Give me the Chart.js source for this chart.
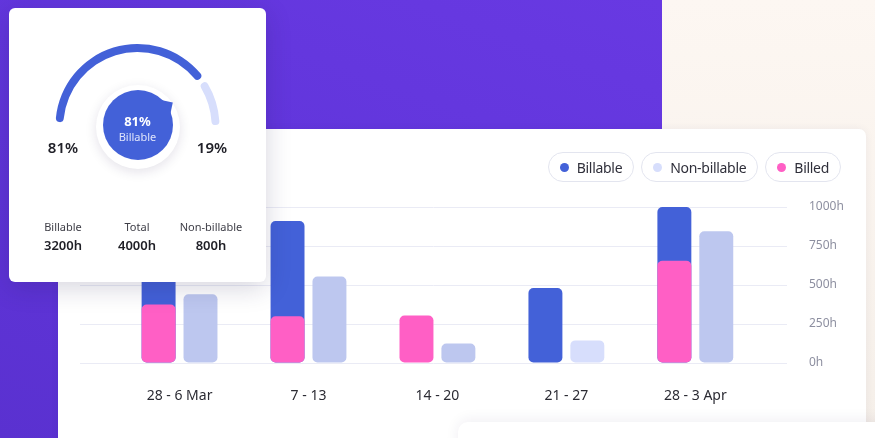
<!DOCTYPE html>
<html>
<head>
<meta charset="utf-8">
<script src="https://cdn.jsdelivr.net/npm/chart.js@4/dist/chart.umd.min.js"></script>
<style>
  html, body { margin: 0; padding: 0; width: 875px; height: 438px; overflow: hidden; }
  body { position: relative; font-family: "Noto Sans", "Open Sans", sans-serif; background: #fbf4ee; }
  #purple { position: absolute; left: 0; top: 0; width: 662px; height: 438px;
    background: linear-gradient(20deg, #5a31d0 0%, #6236dc 60%, #6839e2 100%); }
  #beige { position: absolute; left: 662px; top: 0; width: 213px; height: 438px;
    background: linear-gradient(180deg, #fdf7f2 0%, #f5efe9 100%); }
  #main { position: absolute; left: 58px; top: 129px; width: 808px; height: 340px; background: #fff;
    border-radius: 7px; box-shadow: 0 0 8px rgba(40, 30, 90, 0.06); }
  #barChart { position: absolute; left: 0; top: 0; }
  #legend { position: absolute; right: 25px; top: 23px; display: flex; gap: 7px; }
  .pill { box-sizing: border-box; height: 30px; border: 1px solid #e3e5ef; border-radius: 15px; display: flex;
    align-items: center; padding: 0 11px; font-size: 14px; letter-spacing: -0.3px; color: #2f2f3a; background: #fff; }
  .dot { width: 9px; height: 9px; border-radius: 50%; margin-right: 8px; }
  #bottomCard { position: absolute; left: 458px; top: 422px; width: 460px; height: 60px; background: #fff;
    border-radius: 10px; box-shadow: 0 -2px 14px rgba(40, 30, 90, 0.07); }
  #gauge { position: absolute; left: 9px; top: 8px; width: 257px; height: 274px; background: #fff;
    border-radius: 6px; box-shadow: 0 6px 26px rgba(30, 20, 70, 0.18); }
  #gaugeChart { position: absolute; left: 46px; top: 36px; }
  #ring { position: absolute; left: 86.5px; top: 76.5px; width: 84px; height: 84px; border-radius: 50%;
    background: #fff; box-shadow: 0 3px 12px rgba(30, 20, 70, 0.12); }
  #pointer { position: absolute; left: 128.5px; top: 117px; width: 0; height: 0; transform: rotate(-33deg); }
  #pointer div { position: absolute; left: 27px; top: -6px; width: 12px; height: 12px; background: #4361d8;
    transform: rotate(45deg); }
  #bubble { position: absolute; left: 93.5px; top: 82px; width: 70px; height: 70px; border-radius: 50%;
    background: #4361d8; color: #fff; text-align: center; }
  #bubble .pct { position: absolute; left: 0; right: 0; top: 22px; font-size: 13px; font-weight: 700; line-height: 18px; }
  #bubble .lbl { position: absolute; left: 0; right: 0; top: 39px; font-size: 11px; color: #dfe4fb; line-height: 15px; }
  .side { position: absolute; width: 60px; margin-left: -30px; text-align: center; font-size: 15px;
    font-weight: 600; color: #202028; top: 129px; line-height: 20px; }
  .stat { position: absolute; width: 90px; margin-left: -45px; text-align: center; top: 211px; }
  .stat .t { font-size: 11px; color: #3d3d46; line-height: 16px; }
  .stat .v { font-size: 13px; font-weight: 600; color: #1f1f26; line-height: 18px; margin-top: 1px; }
</style>
</head>
<body>
<div id="purple"></div>
<div id="beige"></div>

<div id="main">
  <canvas id="barChart" width="808" height="290"></canvas>
  <div id="legend"></div>
</div>
<div id="bottomCard"></div>

<div id="gauge">
  <canvas id="gaugeChart" width="165" height="85"></canvas>
  <div id="ring"></div>
  <div id="pointer"><div></div></div>
  <div id="bubble"><div class="pct"></div><div class="lbl"></div></div>
</div>

<script>
// weekly hours
const weeks = ['28 - 6 Mar', '7 - 13', '14 - 20', '21 - 27', '28 - 3 Apr'];
const billable = [600, 910, null, 480, 1000];
const nonBillable = [440, 555, 125, 145, 845];
const billed = [375, 300, 305, null, 655];
const yTicks = [0, 250, 500, 750, 1000];

// gauge card
const gaugeLabels = ['Billable', 'Non-billable'];
const gaugeValues = [81, 19];
const statLabels = ['Billable', 'Total', 'Non-billable'];
const statValues = ['3200h', '4000h', '800h'];

const blue = '#4361d8';
const pink = '#ff5fc5';
const lav = '#bdc7ef';
const lavLight = '#d7defc';

Chart.defaults.font.family = '"Noto Sans", "Open Sans", sans-serif';

const toPoints = arr => arr.map((v, i) => ({ x: i, y: v }));

const barChart = new Chart(document.getElementById('barChart'), {
  type: 'bar',
  data: {
    datasets: [
      { label: 'Billable', data: toPoints(billable), backgroundColor: blue, stack: 'a', order: 1, dot: blue },
      { label: 'Non-billable', data: toPoints(nonBillable), backgroundColor: [lav, lav, lav, lavLight, lav],
        stack: 'b', order: 2, dot: lavLight },
      { label: 'Billed', data: toPoints(billed), backgroundColor: pink, stack: 'a', order: 0, dot: pink }
    ]
  },
  options: {
    responsive: false,
    animation: false,
    events: [],
    layout: { padding: { left: 22, top: 78, right: 0, bottom: 0 } },
    datasets: {
      bar: { borderRadius: 5, borderSkipped: false, categoryPercentage: 0.65, barPercentage: 0.81 }
    },
    plugins: { legend: { display: false }, tooltip: { enabled: false } },
    scales: {
      x: {
        type: 'linear',
        offset: false,
        stacked: true,
        min: -0.772,
        max: 4.711,
        grid: { display: false },
        border: { display: false },
        afterBuildTicks: s => { s.ticks = weeks.map((w, i) => ({ value: i })); },
        afterFit: s => { s.height = 56; },
        ticks: {
          autoSkip: false,
          maxRotation: 0,
          padding: 17,
          color: '#2b2b33',
          font: { size: 14 },
          callback: v => weeks[v]
        }
      },
      y: {
        position: 'right',
        stacked: false,
        min: 0,
        max: 1000,
        afterBuildTicks: s => { s.ticks = yTicks.map(v => ({ value: v })); },
        afterFit: s => { s.width = 79; },
        grid: { color: '#eaebf5', lineWidth: 1, drawTicks: false },
        border: { display: false },
        ticks: { padding: 22, color: '#8d8fa0', font: { size: 12 }, callback: v => v + 'h' }
      }
    }
  }
});

// pill legend built from the chart's datasets
const legendEl = document.getElementById('legend');
barChart.data.datasets.forEach(ds => {
  const pill = document.createElement('div');
  pill.className = 'pill';
  pill.innerHTML = '<span class="dot" style="background:' + ds.dot + '"></span>' + ds.label;
  legendEl.appendChild(pill);
});

new Chart(document.getElementById('gaugeChart'), {
  type: 'doughnut',
  data: {
    labels: gaugeLabels,
    datasets: [{
      data: gaugeValues,
      backgroundColor: [blue, lavLight],
      borderWidth: 0,
      borderRadius: 5,
      spacing: 6
    }]
  },
  options: {
    responsive: false,
    animation: false,
    events: [],
    rotation: -90,
    circumference: 180,
    cutout: '90%',
    plugins: { legend: { display: false }, tooltip: { enabled: false } }
  }
});

// gauge texts
const gaugeEl = document.getElementById('gauge');
document.querySelector('#bubble .pct').textContent = gaugeValues[0] + '%';
document.querySelector('#bubble .lbl').textContent = gaugeLabels[0];
[[54, gaugeValues[0]], [203, gaugeValues[1]]].forEach(([x, v]) => {
  const d = document.createElement('div');
  d.className = 'side';
  d.style.left = x + 'px';
  d.textContent = v + '%';
  gaugeEl.appendChild(d);
});
[54, 128, 202].forEach((x, i) => {
  const d = document.createElement('div');
  d.className = 'stat';
  d.style.left = x + 'px';
  d.innerHTML = '<div class="t">' + statLabels[i] + '</div><div class="v">' + statValues[i] + '</div>';
  gaugeEl.appendChild(d);
});
</script>
</body>
</html>
